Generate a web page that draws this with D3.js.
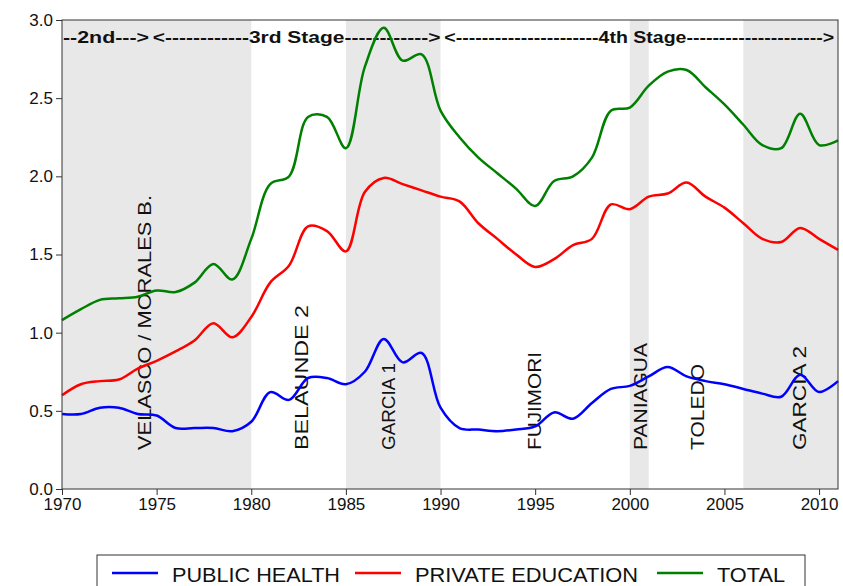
<!DOCTYPE html><html><head><meta charset="utf-8"><script src="https://cdn.jsdelivr.net/npm/d3@7"></script>
<style>body{margin:0;background:#fff}text{font-family:Arial,"Liberation Sans",sans-serif}</style></head><body><svg id="c" width="843" height="586"></svg><script>
const years=[1970,1971,1972,1973,1974,1975,1976,1977,1978,1979,1980,1981,1982,1983,1984,1985,1986,1987,1988,1989,1990,1991,1992,1993,1994,1995,1996,1997,1998,1999,2000,2001,2002,2003,2004,2005,2006,2007,2008,2009,2010,2011];
const publicHealth=[0.48,0.48,0.52,0.52,0.48,0.47,0.39,0.39,0.39,0.37,0.43,0.62,0.57,0.71,0.71,0.67,0.75,0.96,0.81,0.87,0.52,0.39,0.38,0.37,0.38,0.40,0.49,0.45,0.55,0.64,0.66,0.72,0.78,0.72,0.69,0.67,0.64,0.61,0.59,0.73,0.62,0.69];
const privateEducation=[0.60,0.67,0.69,0.70,0.77,0.82,0.88,0.95,1.06,0.97,1.10,1.32,1.43,1.68,1.65,1.52,1.90,1.99,1.95,1.91,1.87,1.84,1.70,1.60,1.50,1.42,1.47,1.56,1.60,1.82,1.79,1.87,1.89,1.96,1.87,1.80,1.70,1.60,1.58,1.67,1.60,1.53];
const total=[1.08,1.15,1.21,1.22,1.23,1.27,1.26,1.32,1.44,1.34,1.60,1.95,2.00,2.38,2.38,2.18,2.70,2.95,2.74,2.78,2.42,2.25,2.12,2.02,1.92,1.81,1.97,2.00,2.12,2.42,2.44,2.58,2.67,2.68,2.57,2.46,2.33,2.20,2.18,2.40,2.20,2.23];
const shaded=[[1970,1980],[1985,1990],[2000,2001],[2006,2011]];
const govts=[["VELASCO / MORALES B.",1974.4,255],["BELAUNDE 2",1982.7,145],["GARCIA 1",1987.3,87],["FUJIMORI",1995.0,98],["PANIAGUA",2000.6,107],["TOLEDO",2003.6,86],["GARCIA 2",2009.0,104]];
const stages=[["--2nd--->",1970.05,1974.6],["<------------3rd Stage------------>",1974.8,1990.0],["<----------------------4th Stage--------------------->",1990.2,2010.8]];
const yTicks=[0,0.5,1,1.5,2,2.5,3];
const xTicks=[1970,1975,1980,1985,1990,1995,2000,2005,2010];
const svg=d3.select("#c");
const L=62,R=838,T=20,B=489;
const x=d3.scaleLinear().domain([1970,2011]).range([L,R]);
const y=d3.scaleLinear().domain([0,3]).range([B,T]);
svg.selectAll("rect.s").data(shaded).join("rect").attr("x",d=>x(d[0])).attr("width",d=>x(d[1])-x(d[0])).attr("y",T).attr("height",B-T).attr("fill","#e8e8e8");
svg.selectAll("text.g").data(govts).join("text").attr("transform",d=>`translate(${x(d[1])+6},450) rotate(-90)`).attr("font-size",19).attr("textLength",d=>d[2]).attr("lengthAdjust","spacingAndGlyphs").attr("fill","#111").text(d=>d[0]);
svg.selectAll("text.st").data(stages).join("text").attr("x",d=>x(d[1])).attr("y",43).attr("textLength",d=>x(d[2])-x(d[1])).attr("lengthAdjust","spacingAndGlyphs").attr("font-size",17).attr("font-weight","bold").attr("fill","#111").text(d=>d[0]);
const line=d3.line().x((d,i)=>x(years[i])).y(d=>y(d)).curve(d3.curveCatmullRom.alpha(0.5));
[[publicHealth,"#0000ff"],[privateEducation,"#ff0000"],[total,"#008000"]].forEach(([s,c])=>svg.append("path").attr("d",line(s)).attr("fill","none").attr("stroke",c).attr("stroke-width",2.5));
svg.append("rect").attr("x",L).attr("y",T).attr("width",R-L).attr("height",B-T).attr("fill","none").attr("stroke","#333");
const ya=svg.append("g").attr("transform",`translate(${L},0)`).call(d3.axisLeft(y).tickValues(yTicks).tickFormat(d3.format(".1f")).tickSize(6).tickSizeOuter(0));
const xa=svg.append("g").attr("transform",`translate(0,${B})`).call(d3.axisBottom(x).tickValues(xTicks).tickFormat(d3.format("d")).tickSize(6).tickSizeOuter(0));
[ya,xa].forEach(a=>{a.select(".domain").remove();a.selectAll("text").attr("font-size",17).attr("fill","#111");a.selectAll("line").attr("stroke","#333")});
const lg=svg.append("g");
lg.append("rect").attr("x",97).attr("y",555).attr("width",708).attr("height",40).attr("fill","#fff").attr("stroke","#333");
[["PUBLIC HEALTH","#0000ff",112,168],["PRIVATE EDUCATION","#ff0000",355,223],["TOTAL","#008000",657,68]].forEach(([t,c,px,w])=>{lg.append("line").attr("x1",px).attr("x2",px+46).attr("y1",573).attr("y2",573).attr("stroke",c).attr("stroke-width",2.5);lg.append("text").attr("x",px+60).attr("y",582).attr("font-size",21).attr("textLength",w).attr("lengthAdjust","spacingAndGlyphs").attr("fill","#111").text(t)});
</script></body></html>
